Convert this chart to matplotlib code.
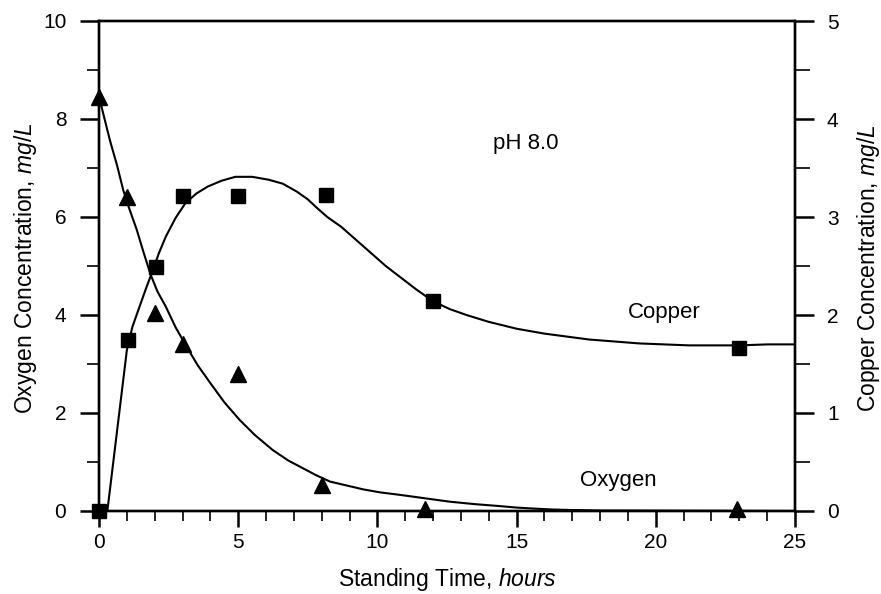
import matplotlib
matplotlib.use("Agg")
import matplotlib.pyplot as plt
from matplotlib.ticker import MultipleLocator

plt.rcParams['font.family'] = ['Liberation Sans', 'DejaVu Sans']
plt.rcParams['mathtext.fontset'] = 'custom'
plt.rcParams['mathtext.rm'] = 'Liberation Sans'
plt.rcParams['mathtext.it'] = 'Liberation Sans:italic'

# measured points
oxy_t = [0, 1, 2, 3, 5, 8, 11.7, 22.9]
oxy_v = [8.45, 6.4, 4.05, 3.4, 2.8, 0.53, 0.05, 0.05]
cu_t = [0, 1.03, 2.05, 3.0, 5.0, 8.15, 12.0, 23.0]
cu_v = [0.0, 1.74, 2.49, 3.21, 3.21, 3.22, 2.14, 1.66]

# fitted curves
oxy_curve_t = [0, 0.2, 0.4, 0.65, 0.87, 1.1, 1.35, 1.6, 1.85, 2.1, 2.4, 2.75, 3.15, 3.55, 4.0, 4.5,
               5.05, 5.6, 6.25, 6.8, 7.3, 7.8, 8.3, 8.9, 9.5, 10.1, 10.8, 11.7, 12.6, 13.5, 14.4, 15.0,
               15.6, 16.3, 17.0, 18.0, 25.0]
oxy_curve_v = [8.46, 8.0, 7.55, 7.05, 6.55, 6.15, 5.75, 5.28, 4.83, 4.48, 4.17, 3.75, 3.35, 2.97, 2.61, 2.22,
               1.86, 1.55, 1.24, 1.03, 0.88, 0.73, 0.60, 0.52, 0.44, 0.38, 0.33, 0.26, 0.19, 0.14, 0.10, 0.07,
               0.05, 0.03, 0.02, 0.01, 0.0]
cu_curve_t = [0, 0.3, 0.65, 1.0, 1.2, 1.45, 1.7, 1.9, 2.15, 2.4, 2.75, 3.1, 3.5, 3.9, 4.4, 4.9, 5.5, 6.1,
              6.6, 7.1, 7.5, 7.8, 8.2, 8.7, 9.1, 9.5, 10.3, 11.4, 12.0, 12.6, 13.2, 14.0, 15.0, 16.0, 16.8,
              17.6, 18.5, 19.4, 20.3, 21.2, 22.1, 23.0, 24.0, 25.0]
cu_curve_v = [0.0, 0.0, 0.82, 1.64, 1.88, 2.08, 2.28, 2.43, 2.63, 2.80, 2.99, 3.14, 3.24, 3.31, 3.37, 3.41, 3.41, 3.38,
              3.34, 3.26, 3.18, 3.10, 3.00, 2.90, 2.80, 2.70, 2.50, 2.26, 2.14, 2.06, 2.00, 1.93, 1.86, 1.81, 1.78,
              1.75, 1.73, 1.71, 1.70, 1.69, 1.69, 1.69, 1.70, 1.70]

W, H = 881, 594
fig = plt.figure(figsize=(W / 100, H / 100), dpi=100)
L, R, T, B = 99, 795, 21, 511
ax = fig.add_axes([L / W, 1 - B / H, (R - L) / W, (B - T) / H])
ax2 = ax.twinx()

ax.plot(oxy_curve_t, oxy_curve_v, color='black', lw=1.5, zorder=2, solid_joinstyle='round')
ax.plot(oxy_t, oxy_v, linestyle='none', marker='^', ms=11.5, color='black', clip_on=False, zorder=3)
ax2.plot(cu_curve_t, cu_curve_v, color='black', lw=1.5, zorder=2, solid_joinstyle='round')
ax2.plot(cu_t, cu_v, linestyle='none', marker='s', ms=9.4, color='black', clip_on=False, zorder=3)

ax.set_xlim(0, 25)
ax.set_ylim(0, 10)
ax2.set_ylim(0, 5)

ax.xaxis.set_major_locator(MultipleLocator(5))
ax.xaxis.set_minor_locator(MultipleLocator(1))
ax.yaxis.set_major_locator(MultipleLocator(2))
ax.yaxis.set_minor_locator(MultipleLocator(1))
ax2.yaxis.set_major_locator(MultipleLocator(1))
ax2.yaxis.set_minor_locator(MultipleLocator(0.5))

fs_tick = 15
ax.tick_params(axis='x', which='major', direction='out', length=11.5, width=1.8, pad=4, labelsize=fs_tick)
ax.tick_params(axis='x', which='minor', direction='out', length=7, width=1.2)
ax.tick_params(axis='y', which='major', direction='out', length=13.5, width=1.8, pad=10, labelsize=fs_tick)
ax.tick_params(axis='y', which='minor', direction='out', length=8.5, width=1.2)
ax2.tick_params(axis='y', which='major', direction='out', length=14, width=1.8, pad=9, labelsize=fs_tick)
ax2.tick_params(axis='y', which='minor', direction='out', length=11, width=1.2)

for a in (ax, ax2):
    for s in a.spines.values():
        s.set_linewidth(1.7)

fs_lab = 16.5
fig.text((L + R) / 2 / W, 1 - 586 / H, 'Standing Time, $\\mathit{hours}$', ha='center', va='baseline', fontsize=fs_lab)
fig.text(26 / W, 1 - 268 / H, 'Oxygen Concentration, $\\mathit{mg/L}$', rotation=90, ha='center', va='center', fontsize=fs_lab)
fig.text(869 / W, 1 - 268 / H, 'Copper Concentration, $\\mathit{mg/L}$', rotation=90, ha='center', va='center', fontsize=fs_lab)

fs_ann = 16
ax.text(15.34, 7.51, 'pH 8.0', ha='center', va='center', fontsize=fs_ann)
ax.text(20.3, 4.06, 'Copper', ha='center', va='center', fontsize=fs_ann)
ax.text(18.65, 0.62, 'Oxygen', ha='center', va='center', fontsize=fs_ann)

fig.savefig('out.png', dpi=100)
